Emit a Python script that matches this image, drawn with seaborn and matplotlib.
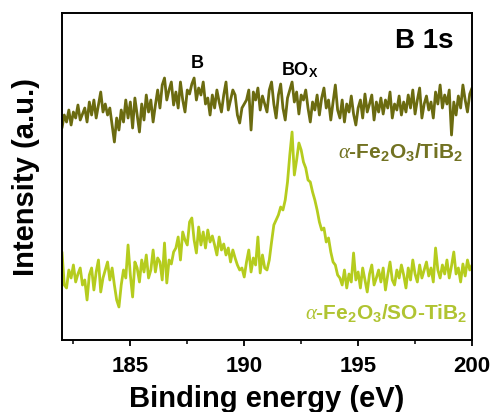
import numpy as np
import pandas as pd
import matplotlib
matplotlib.use("Agg")
import matplotlib.pyplot as plt
from matplotlib.ticker import MultipleLocator
import seaborn as sns

# ---- data (arbitrary intensity units) ----
e_start, e_step, n_pts = 182.0, 0.1, 181
energy = np.round(e_start + e_step * np.arange(n_pts), 2)

tib2 = [
    212, 225, 218, 230, 215, 228, 222, 235, 220, 226,
    232, 218, 238, 225, 240, 222, 235, 248, 228, 236,
    225, 232, 215, 198, 222, 210, 230, 218, 240, 222,
    238, 212, 242, 225, 208, 236, 220, 245, 228, 240,
    218, 235, 250, 232, 255, 262, 240, 250, 258, 235,
    248, 232, 258, 240, 228, 250, 246, 256, 262, 240,
    252, 245, 258, 236, 242, 225, 245, 232, 250, 238,
    228, 245, 258, 230, 240, 250, 245, 225, 217, 232,
    236, 240, 250, 210, 248, 240, 252, 230, 244, 236,
    228, 250, 258, 236, 222, 245, 256, 232, 220, 242,
    250, 258, 238, 248, 226, 245, 240, 250, 232, 218,
    238, 230, 245, 225, 242, 252, 232, 240, 220, 238,
    255, 230, 222, 240, 218, 236, 228, 244, 226, 215,
    232, 240, 222, 246, 228, 236, 245, 220, 238, 228,
    242, 226, 240, 232, 248, 222, 236, 230, 244, 225,
    238, 228, 245, 232, 250, 226, 240, 252, 222, 236,
    244, 230, 238, 222, 248, 236, 255, 232, 245, 236,
    250, 205, 238, 225, 244, 232, 255, 240, 228, 246,
    252,
]

so_tib2 = [
    88, 55, 52, 70, 62, 75, 58, 66, 72, 55,
    60, 40, 65, 72, 50, 68, 80, 48, 62, 70,
    78, 60, 72, 55, 40, 33, 55, 70, 62, 95,
    65, 43, 78, 72, 58, 80, 68, 85, 62, 70,
    90, 68, 82, 78, 60, 97, 57, 80, 76, 88,
    92, 103, 80, 108, 100, 95, 118, 122, 100, 87,
    113, 95, 108, 92, 110, 98, 104, 95, 85, 103,
    90, 96, 85, 92, 78, 90, 82, 75, 70, 72,
    63, 78, 90, 68, 82, 75, 103, 67, 85, 72,
    70, 80, 98, 115, 120, 125, 133, 130, 140, 158,
    185, 208, 165, 180, 197, 190, 178, 172, 160, 158,
    148, 140, 130, 118, 110, 112, 98, 102, 88, 78,
    75, 65, 62, 55, 70, 52, 66, 58, 87, 60,
    68, 52, 72, 60, 48, 66, 75, 55, 62, 70,
    58, 72, 50, 65, 78, 60, 55, 70, 62, 75,
    65, 52, 72, 60, 80, 66, 58, 75, 62, 70,
    78, 64, 72, 58, 92, 70, 62, 75, 66, 80,
    62, 74, 88, 66, 72, 58, 76, 64, 80, 70,
    75,
]

series_labels = [r"$\alpha$-Fe$_\mathbf{2}$O$_\mathbf{3}$/TiB$_\mathbf{2}$",
                 r"$\alpha$-Fe$_\mathbf{2}$O$_\mathbf{3}$/SO-TiB$_\mathbf{2}$"]
x_ticks = [185, 190, 195, 200]

# ---- style ----
sns.set_theme(style="white")
plt.rcParams["font.family"] = ["Liberation Sans", "DejaVu Sans"]
plt.rcParams["mathtext.fontset"] = "custom"
plt.rcParams["mathtext.rm"] = "Liberation Sans:bold"
plt.rcParams["mathtext.bf"] = "Liberation Sans:bold"
plt.rcParams["mathtext.it"] = "Liberation Serif:italic"
plt.rcParams["text.color"] = "black"
plt.rcParams["axes.labelcolor"] = "black"
plt.rcParams["xtick.color"] = "black"

c_top = "#6b6b10"
c_bot = "#b5cc1e"
c_top_txt = "#727222"
c_bot_txt = "#b0c432"

df = pd.DataFrame({
    "energy": np.concatenate([energy, energy]),
    "intensity": np.concatenate([tib2, so_tib2]),
    "sample": ["TiB2"] * n_pts + ["SO-TiB2"] * n_pts,
})

fig = plt.figure(figsize=(4.94, 4.12), dpi=100)
ax = fig.add_axes([0.1255, 0.1748, 0.83, 0.7936])

sns.lineplot(data=df, x="energy", y="intensity", hue="sample",
             palette={"TiB2": c_top, "SO-TiB2": c_bot}, linewidth=2.0,
             legend=False, ax=ax, estimator=None, sort=False)

ax.set_xlim(182, 200)
ax.set_ylim(0, 327)
ax.set_xticks(x_ticks)
ax.set_xticklabels([str(t) for t in x_ticks])
ax.xaxis.set_minor_locator(MultipleLocator(2.5))
ax.set_yticks([])
ax.tick_params(axis="x", which="major", direction="out", length=4.5, width=1.3,
               bottom=True, labelsize=16, pad=7, colors="black")
ax.tick_params(axis="x", which="minor", direction="out", length=3, width=1.1,
               bottom=True, colors="black")
for lab in ax.get_xticklabels():
    lab.set_fontweight("bold")
for s in ax.spines.values():
    s.set_visible(True)
    s.set_color("black")
    s.set_linewidth(1.4)

ax.set_xlabel("Binding energy (eV)", fontsize=21, fontweight="bold",
              labelpad=6, color="black")
ax.set_ylabel("Intensity (a.u.)", fontsize=21, fontweight="bold",
              labelpad=16, color="black")

ax.text(0.955, 0.915, "B 1s", transform=ax.transAxes, ha="right", va="center",
        fontsize=20, fontweight="bold", color="black")
ax.text(187.95, 277, "B", ha="center", va="center", fontsize=13,
        fontweight="bold", color="black")
ax.text(192.45, 270, r"BO$_\mathbf{X}$", ha="center", va="center", fontsize=13,
        fontweight="bold", color="black")
ax.text(199.6, 188, series_labels[0], ha="right", va="center", fontsize=15,
        fontweight="bold", color=c_top_txt)
ax.text(199.8, 27, series_labels[1], ha="right", va="center", fontsize=15,
        fontweight="bold", color=c_bot_txt)

fig.savefig("out.png", dpi=100)
